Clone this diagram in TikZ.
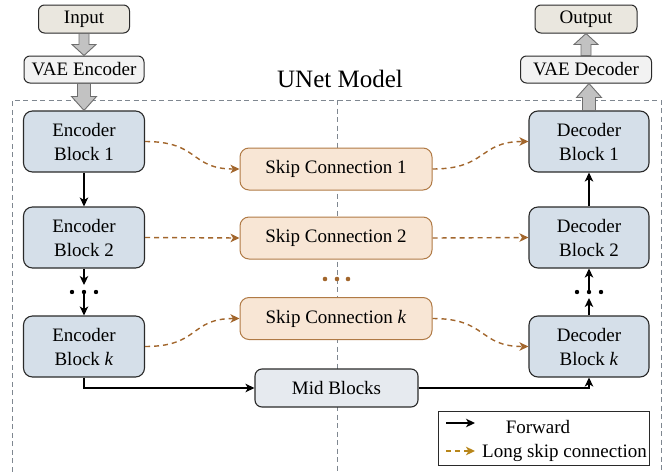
\documentclass[tikz,border=0pt]{standalone}
\usepackage{fontspec}
\setmainfont{Liberation Serif}
\usetikzlibrary{arrows.meta,calc}
\definecolor{blkfill}{HTML}{D5DFE9}
\definecolor{boxline}{HTML}{2A2A2A}
\definecolor{skipfill}{HTML}{F8E6D5}
\definecolor{skipline}{HTML}{B07A45}
\definecolor{skipc}{HTML}{A2662C}
\definecolor{legc}{HTML}{B8861A}
\definecolor{midfill}{HTML}{E6EAEF}
\definecolor{iofill}{HTML}{EAE7DF}
\definecolor{vaefill}{HTML}{F2F2F2}
\definecolor{framec}{HTML}{7F8790}
\definecolor{garrfill}{HTML}{C2C2C2}
\definecolor{garrline}{HTML}{6E6E6E}
\begin{document}
\begin{tikzpicture}[x=1pt,y=-1pt,
  font=\fontsize{19}{24}\selectfont,
  blockbox/.style={draw=boxline, fill=blkfill, rounded corners=9pt, line width=1.1pt,
    minimum width=121pt, minimum height=61pt, align=center, inner sep=0pt},
  skipbox/.style={draw=skipline, fill=skipfill, rounded corners=9pt, line width=1pt,
    minimum width=192pt, minimum height=42pt, inner sep=0pt},
  midbox/.style={draw=boxline, fill=midfill, rounded corners=7pt, line width=1.1pt,
    minimum width=163pt, minimum height=38pt, inner sep=0pt},
  iobox/.style={draw=boxline, fill=iofill, rounded corners=6pt, line width=1pt,
    minimum height=28pt, inner sep=0pt},
  vaebox/.style={draw=boxline, fill=vaefill, rounded corners=6pt, line width=1pt,
    minimum height=27pt, inner sep=0pt},
  fwd/.style={-{Stealth[length=9pt,width=8.5pt,inset=2.5pt]}, line width=1.2pt, black},
  skiparr/.style={-{Stealth[length=9pt,width=8.5pt,inset=2.5pt]}, dash pattern=on 5pt off 4pt, line width=1.4pt, skipc},
  frame/.style={draw=framec, dash pattern=on 5pt off 3.5pt, line width=1pt},
  garr/.style={draw=garrline, fill=garrfill, line width=0.9pt, line join=miter}
]
\useasboundingbox (0,0) rectangle (667,472);

% dashed UNet frame
\draw[frame] (12,480) -- (12,100) -- (661,100) -- (661,480);
\draw[frame] (337,100) -- (337,480);
\node[font=\fontsize{25}{30}\selectfont, anchor=base] (title) at (340,87) {UNet Model};

% top nodes
\node[iobox, minimum width=91pt] (inp) at (84,19) {Input};
\node[vaebox, minimum width=120pt] (vaee) at (84,69.5) {VAE Encoder};
\node[iobox, minimum width=102pt] (outp) at (586,19) {Output};
\node[vaebox, minimum width=131pt] (vaed) at (586,69.5) {VAE Decoder};

% encoder / decoder blocks
\node[blockbox] (e1) at (84,141.5) {Encoder\\Block 1};
\node[blockbox] (e2) at (84,237.5) {Encoder\\Block 2};
\node[blockbox] (ek) at (84,346.5) {Encoder\\Block \textit{k}};
\node[blockbox, minimum width=120pt] (d1) at (589,141.5) {Decoder\\Block 1};
\node[blockbox, minimum width=120pt] (d2) at (589,237.5) {Decoder\\Block 2};
\node[blockbox, minimum width=120pt] (dk) at (589,346.5) {Decoder\\Block \textit{k}};

% skip connections
\node[skipbox] (s1) at (336,169) {Skip Connection 1};
\node[skipbox] (s2) at (336,238) {Skip Connection 2};
\node[skipbox] (sk) at (336,318.5) {Skip Connection \textit{k}};
\node[midbox] (mid) at (336.5,388) {Mid Blocks};

% orange dots
\fill[skipc] (325,279) circle (2.3pt) (337,279) circle (2.3pt) (348,279) circle (2.3pt);

% gray block arrows (down)
\path let \p1=(inp.south), \p2=(vaee.north) in
  [garr] (\x1-5pt,\y1) -- (\x1+5pt,\y1) -- (\x1+5pt,\y2+11pt) -- (\x1+12pt,\y2+11pt)
  -- (\x1,\y2) -- (\x1-12pt,\y2+11pt) -- (\x1-5pt,\y2+11pt) -- cycle;
\path let \p1=(vaee.south), \p2=(e1.north) in
  [garr] (\x1-6.5pt,\y1) -- (\x1+6.5pt,\y1) -- (\x1+6.5pt,\y2+14pt) -- (\x1+12.5pt,\y2+14pt)
  -- (\x1,\y2) -- (\x1-12.5pt,\y2+14pt) -- (\x1-6.5pt,\y2+14pt) -- cycle;
% gray block arrows (up)
\path let \p1=(vaed.north), \p2=(outp.south) in
  [garr] (\x1-5pt,\y1) -- (\x1+5pt,\y1) -- (\x1+5pt,\y2-11pt) -- (\x1+12pt,\y2-11pt)
  -- (\x1,\y2) -- (\x1-12pt,\y2-11pt) -- (\x1-5pt,\y2-11pt) -- cycle;
\path let \p1=(d1.north), \p2=(vaed.south) in
  [garr] (\x1-6.5pt,\y1) -- (\x1+6.5pt,\y1) -- (\x1+6.5pt,\y2-14pt) -- (\x1+12.5pt,\y2-14pt)
  -- (\x1,\y2) -- (\x1-12.5pt,\y2-14pt) -- (\x1-6.5pt,\y2-14pt) -- cycle;

% forward arrows, encoder side
\coordinate (edt) at (84,285);
\coordinate (ed) at (84,292);
\draw[fwd] (e1.south) -- (e2.north);
\draw[fwd] (e2.south) -- (edt);
\draw[fwd] (ed) -- (ek.north);
\fill (72,292) circle (2.2pt) (84,292) circle (2.2pt) (96,292) circle (2.2pt);

% forward arrows, decoder side
\coordinate (ddt) at (589,298);
\coordinate (dd) at (589,290);
\draw[fwd] (d2.north) -- (d1.south);
\draw[fwd] (dd) -- (d2.south);
\draw[fwd] (dk.north) -- (ddt);
\fill (577,292) circle (2.2pt) (589,292) circle (2.2pt) (601,292) circle (2.2pt);

% mid connections
\draw[fwd] (ek.south) |- (mid.west);
\draw[fwd] (mid.east) -| (dk.south);

% skip arrows
\draw[skiparr] (e1.east) .. controls +(55,0) and +(-50,0) .. (s1.west);
\draw[skiparr] (s1.east) .. controls +(55,0) and +(-50,0) .. (d1.west);
\draw[skiparr] (e2.east) -- (s2.west);
\draw[skiparr] (s2.east) -- (d2.west);
\draw[skiparr] (ek.east) .. controls +(55,0) and +(-50,0) .. (sk.west);
\draw[skiparr] (sk.east) .. controls +(55,0) and +(-50,0) .. (dk.west);

% legend
\node[draw=boxline, line width=0.9pt, minimum width=211pt, minimum height=54pt, inner sep=0pt] (leg) at (543.5,438) {};
\coordinate (lf1) at (446,423);
\coordinate (lf2) at (475,423);
\coordinate (ls1) at (446,451);
\coordinate (ls2) at (475,451);
\draw[fwd] (lf1) -- (lf2);
\draw[-{Stealth[length=9pt,width=8.5pt,inset=2.5pt]}, dash pattern=on 5pt off 4pt, line width=1.4pt, legc] (ls1) -- (ls2);
\node[anchor=base, inner sep=0pt] (lft) at (538,433) {Forward};
\node[anchor=base west, inner sep=0pt] (lst) at (482,457) {Long skip connection};
\end{tikzpicture}
\end{document}
